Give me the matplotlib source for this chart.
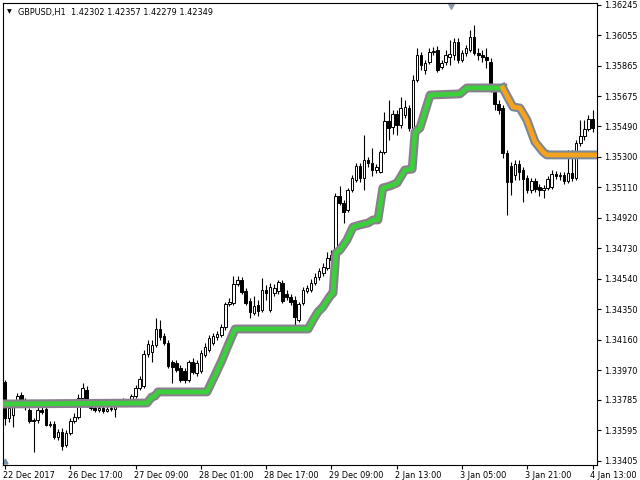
import numpy as np
import matplotlib
matplotlib.use("Agg")
import matplotlib.pyplot as plt
from matplotlib.transforms import blended_transform_factory

# GBPUSD H1 candles (bar index = position)
opens = [1.33897, 1.33673, 1.33691, 1.33760, 1.33816, 1.33779, 1.33723, 1.33660, 1.33660, 1.33723,
         1.33729, 1.33629, 1.33635, 1.33554, 1.33586, 1.33505, 1.33579, 1.33654, 1.33679, 1.33797,
         1.33847, 1.33754, 1.33735, 1.33723, 1.33735, 1.33716, 1.33729, 1.33729, 1.33772, 1.33779,
         1.33772, 1.33779, 1.33810, 1.33860, 1.33872, 1.34071, 1.34084, 1.34127, 1.34227, 1.34183,
         1.34140, 1.34021, 1.34015, 1.33984, 1.33965, 1.33909, 1.34021, 1.33953, 1.33965, 1.34065,
         1.34096, 1.34140, 1.34177, 1.34190, 1.34239, 1.34383, 1.34389, 1.34507, 1.34532, 1.34464,
         1.34401, 1.34327, 1.34376, 1.34345, 1.34470, 1.34345, 1.34451, 1.34464, 1.34513, 1.34445,
         1.34426, 1.34408, 1.34283, 1.34389, 1.34464, 1.34470, 1.34513, 1.34551, 1.34576, 1.34607,
         1.34657, 1.34675, 1.35055, 1.35012, 1.34968, 1.35093, 1.35155, 1.35242, 1.35167, 1.35280,
         1.35261, 1.35217, 1.35205, 1.35329, 1.35522, 1.35485, 1.35566, 1.35498, 1.35560, 1.35603,
         1.35479, 1.35778, 1.35933, 1.35840, 1.35890, 1.35952, 1.35965, 1.35859, 1.35890, 1.35921,
         1.35933, 1.36014, 1.35902, 1.35946, 1.35965, 1.36046, 1.35946, 1.35933, 1.35921, 1.35890,
         1.35703, 1.35628, 1.35603, 1.35323, 1.35242, 1.35186, 1.35255, 1.35217, 1.35167, 1.35093,
         1.35149, 1.35111, 1.35093, 1.35105, 1.35111, 1.35192, 1.35180, 1.35186, 1.35149, 1.35199,
         1.35167, 1.35385, 1.35429, 1.35473, 1.35535]
highs = [1.33909, 1.33760, 1.33785, 1.33828, 1.33835, 1.33797, 1.33735, 1.33673, 1.33741, 1.33741,
         1.33747, 1.33654, 1.33654, 1.33604, 1.33610, 1.33598, 1.33673, 1.33704, 1.33822, 1.33891,
         1.33872, 1.33760, 1.33754, 1.33747, 1.33747, 1.33741, 1.33760, 1.33791, 1.33791, 1.33797,
         1.33791, 1.33822, 1.33878, 1.33934, 1.34096, 1.34158, 1.34158, 1.34296, 1.34283, 1.34202,
         1.34158, 1.34034, 1.34034, 1.34003, 1.33984, 1.34034, 1.34046, 1.34034, 1.34096, 1.34140,
         1.34190, 1.34202, 1.34215, 1.34258, 1.34395, 1.34420, 1.34557, 1.34557, 1.34551, 1.34482,
         1.34420, 1.34433, 1.34408, 1.34545, 1.34501, 1.34513, 1.34507, 1.34532, 1.34532, 1.34470,
         1.34445, 1.34433, 1.34395, 1.34489, 1.34501, 1.34538, 1.34576, 1.34607, 1.34638, 1.34707,
         1.34719, 1.35074, 1.35118, 1.35030, 1.35105, 1.35186, 1.35261, 1.35261, 1.35435, 1.35298,
         1.35354, 1.35255, 1.35342, 1.35578, 1.35653, 1.35591, 1.35591, 1.35672, 1.35653, 1.35622,
         1.35809, 1.35977, 1.35952, 1.35902, 1.35977, 1.35983, 1.35990, 1.35902, 1.35965, 1.36027,
         1.36039, 1.36039, 1.35965, 1.35996, 1.36089, 1.36120, 1.35977, 1.35965, 1.35977, 1.35915,
         1.35728, 1.35653, 1.35622, 1.35342, 1.35267, 1.35280, 1.35280, 1.35236, 1.35186, 1.35167,
         1.35167, 1.35130, 1.35124, 1.35180, 1.35217, 1.35211, 1.35205, 1.35205, 1.35342, 1.35342,
         1.35404, 1.35529, 1.35529, 1.35560, 1.35591]
lows = [1.33629, 1.33648, 1.33617, 1.33747, 1.33760, 1.33723, 1.33642, 1.33461, 1.33642, 1.33698,
        1.33623, 1.33617, 1.33542, 1.33536, 1.33473, 1.33492, 1.33567, 1.33642, 1.33666, 1.33785,
        1.33741, 1.33723, 1.33710, 1.33710, 1.33704, 1.33710, 1.33716, 1.33679, 1.33760, 1.33760,
        1.33766, 1.33766, 1.33797, 1.33847, 1.33860, 1.34053, 1.34021, 1.34115, 1.34158, 1.34127,
        1.33984, 1.33891, 1.33959, 1.33897, 1.33891, 1.33897, 1.33947, 1.33934, 1.33953, 1.34053,
        1.34084, 1.34127, 1.34158, 1.34177, 1.34221, 1.34370, 1.34376, 1.34495, 1.34445, 1.34376,
        1.34296, 1.34314, 1.34308, 1.34333, 1.34408, 1.34333, 1.34433, 1.34445, 1.34389, 1.34408,
        1.34376, 1.34252, 1.34271, 1.34376, 1.34451, 1.34457, 1.34501, 1.34532, 1.34557, 1.34594,
        1.34644, 1.34663, 1.34999, 1.34887, 1.34956, 1.35080, 1.35143, 1.35143, 1.35093, 1.35236,
        1.35180, 1.35199, 1.35199, 1.35317, 1.35404, 1.35441, 1.35435, 1.35479, 1.35541, 1.35460,
        1.35466, 1.35765, 1.35840, 1.35815, 1.35877, 1.35933, 1.35828, 1.35846, 1.35871, 1.35871,
        1.35902, 1.35884, 1.35890, 1.35927, 1.35952, 1.35933, 1.35902, 1.35890, 1.35852, 1.35703,
        1.35591, 1.35566, 1.35292, 1.34937, 1.35062, 1.35155, 1.35155, 1.35018, 1.35074, 1.35074,
        1.35080, 1.35055, 1.35043, 1.35093, 1.35099, 1.35161, 1.35155, 1.35130, 1.35136, 1.35149,
        1.35155, 1.35367, 1.35404, 1.35460, 1.35454]
closes = [1.33673, 1.33735, 1.33754, 1.33810, 1.33779, 1.33741, 1.33654, 1.33654, 1.33723, 1.33710,
          1.33629, 1.33635, 1.33554, 1.33586, 1.33498, 1.33579, 1.33654, 1.33679, 1.33797, 1.33860,
          1.33754, 1.33735, 1.33723, 1.33735, 1.33716, 1.33729, 1.33735, 1.33772, 1.33779, 1.33772,
          1.33779, 1.33810, 1.33860, 1.33916, 1.34071, 1.34134, 1.34127, 1.34227, 1.34177, 1.34140,
          1.33997, 1.33990, 1.33972, 1.33909, 1.33909, 1.34021, 1.33959, 1.34015, 1.34077, 1.34115,
          1.34171, 1.34183, 1.34196, 1.34239, 1.34383, 1.34395, 1.34507, 1.34532, 1.34457, 1.34389,
          1.34333, 1.34370, 1.34339, 1.34470, 1.34451, 1.34489, 1.34482, 1.34520, 1.34401, 1.34426,
          1.34395, 1.34302, 1.34383, 1.34470, 1.34482, 1.34513, 1.34551, 1.34588, 1.34613, 1.34669,
          1.34688, 1.35055, 1.35012, 1.34956, 1.35093, 1.35167, 1.35242, 1.35167, 1.35280, 1.35261,
          1.35217, 1.35236, 1.35329, 1.35522, 1.35479, 1.35566, 1.35498, 1.35603, 1.35610, 1.35479,
          1.35778, 1.35933, 1.35871, 1.35884, 1.35952, 1.35958, 1.35840, 1.35884, 1.35933, 1.35940,
          1.36014, 1.35902, 1.35946, 1.35977, 1.36046, 1.35946, 1.35933, 1.35921, 1.35902, 1.35715,
          1.35628, 1.35591, 1.35323, 1.35143, 1.35143, 1.35255, 1.35205, 1.35161, 1.35093, 1.35149,
          1.35099, 1.35093, 1.35105, 1.35161, 1.35192, 1.35180, 1.35186, 1.35149, 1.35199, 1.35167,
          1.35385, 1.35429, 1.35473, 1.35535, 1.35479]

# trailing line (bar, price): up-trend part and down-trend part
up_x = [-0.5, 34.8, 36.0, 36.8, 37.5, 49.5, 51.5, 53.2, 54.7, 56.4, 74.3, 75.5, 76.7, 77.9, 79.7,
        80.4, 81.1, 82.1, 83.8, 85.3, 87.0, 89.0, 90.2, 91.4, 92.6, 94.4, 96.1, 98.0, 99.8, 100.5,
        101.7, 102.9, 104.2, 111.5, 113.2, 122.0]
up_y = [1.33760, 1.33766, 1.33804, 1.33810, 1.33835, 1.33835, 1.33941, 1.34034, 1.34127, 1.34227,
        1.34227, 1.34283, 1.34333, 1.34364, 1.34433, 1.34451, 1.34700, 1.34719, 1.34781, 1.34862,
        1.34875, 1.34887, 1.34906, 1.34906, 1.35105, 1.35118, 1.35136, 1.35217, 1.35223, 1.35454,
        1.35479, 1.35578, 1.35684, 1.35691, 1.35728, 1.35728]
dn_x = [122.0, 124.5, 126.2, 127.9, 129.9, 131.9, 132.8, 145.2]
dn_y = [1.35728, 1.35610, 1.35603, 1.35529, 1.35392, 1.35329, 1.35311, 1.35311]

price_ticks = [1.36245, 1.36055, 1.35865, 1.35675, 1.35490, 1.35300, 1.35110, 1.34920,
               1.34730, 1.34540, 1.34350, 1.34160, 1.33970, 1.33785, 1.33595, 1.33405]
time_labels = ['22 Dec 2017', '26 Dec 17:00', '27 Dec 09:00', '28 Dec 01:00', '28 Dec 17:00',
               '29 Dec 09:00', '2 Jan 13:00', '3 Jan 05:00', '3 Jan 21:00', '4 Jan 13:00']
time_bars = [0, 16, 32, 48, 64, 80, 96, 112, 128, 144]

o = np.array(opens)
h = np.array(highs)
l = np.array(lows)
c = np.array(closes)
idx = np.arange(len(o))

fs = 5.9
fig = plt.figure(figsize=(6.4, 4.8), dpi=100)
ax = fig.add_axes([3 / 640, 15 / 480, 594 / 640, 462 / 480])
ax.set_xlim(-0.49, 145.1)
ax.set_ylim(1.33380, 1.36257)

# wicks and bodies
ax.vlines(idx, l, h, color='black', lw=0.8, zorder=2)
bull = c >= o
body_h = np.maximum(np.abs(c - o), 0.000015)
ax.bar(idx[bull], body_h[bull], bottom=np.minimum(o, c)[bull], width=0.62,
       facecolor='white', edgecolor='black', lw=0.7, zorder=3)
ax.bar(idx[~bull], body_h[~bull], bottom=np.minimum(o, c)[~bull], width=0.62,
       facecolor='black', edgecolor='black', lw=0.7, zorder=3)

# indicator line with grey border
ax.plot(up_x, up_y, color='#8a7f8c', lw=6.4, solid_joinstyle='round', zorder=4)
ax.plot(dn_x, dn_y, color='#7c8796', lw=6.4, solid_joinstyle='round', zorder=4)
ax.plot(up_x, up_y, color='#3ccf3c', lw=3.4, solid_joinstyle='round', zorder=5)
ax.plot(dn_x, dn_y, color='#f5a21c', lw=3.4, solid_joinstyle='round', zorder=5)

# axes like the terminal
for s in ax.spines.values():
    s.set_color('black')
    s.set_linewidth(0.8)
ax.yaxis.tick_right()
ax.set_yticks(price_ticks)
ax.set_yticklabels(['%.5f' % p for p in price_ticks], fontsize=fs)
ax.tick_params(axis='y', direction='out', length=3, width=0.8, pad=2)
ax.set_xticks(time_bars)
ax.set_xticklabels([])
ax.tick_params(axis='x', direction='out', length=3, width=0.8)

trans = blended_transform_factory(ax.transData, ax.transAxes)
for b, lab in zip(time_bars, time_labels):
    ax.text(b - 0.5, -0.013, lab, transform=trans, ha='left', va='top', fontsize=fs,
            clip_on=False)

ax.text(0.006, 0.986, '\u25BC', transform=ax.transAxes, fontsize=4.5, va='top', ha='left')
ax.text(0.025, 0.99, 'GBPUSD,H1  1.42302 1.42357 1.42279 1.42349', transform=ax.transAxes,
        fontsize=fs, va='top', ha='left')
ax.plot([0.754], [0.993], marker='v', color='#8a9aaa', ms=5, transform=ax.transAxes,
        clip_on=False)
ax.plot([0.004], [0.008], marker='^', color='#7890a8', ms=3.5, transform=ax.transAxes,
        clip_on=False)

fig.savefig('out.png', dpi=100)
